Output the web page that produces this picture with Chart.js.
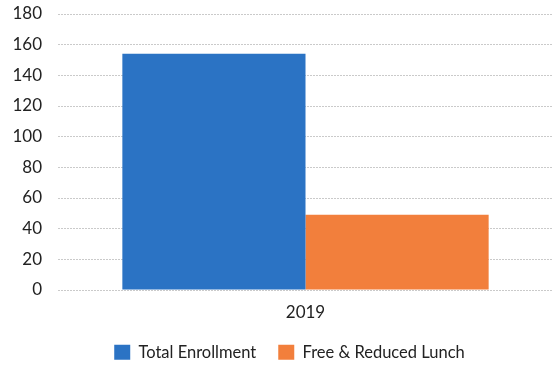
<!DOCTYPE html>
<html>
<head>
<meta charset="utf-8">
<script src="https://cdn.jsdelivr.net/npm/chart.js@4"></script>
<style>
  html, body { margin: 0; padding: 0; background: #ffffff; }
  #wrap { width: 553px; height: 366px; position: relative; }
</style>
</head>
<body>
<div id="wrap"><canvas id="chart" width="553" height="366"></canvas></div>
<script>
// Enrollment figures for the school year
const categories = ['2019'];
const seriesNames = ['Total Enrollment', 'Free & Reduced Lunch'];
const totalEnrollment = [154];
const freeReducedLunch = [49];
const yTicks = [0, 20, 40, 60, 80, 100, 120, 140, 160, 180];

const blue = '#2b73c4';
const orange = '#f27f3c';
const fontFamily = 'Lato, "Open Sans", sans-serif';

// Keeps the legend compact and nudges it a little to the right
const legendTweak = {
  id: 'legendTweak',
  beforeInit(chart) {
    const baseFit = chart.legend.fit;
    chart.legend.fit = function () {
      baseFit.call(this);
      this.height = 44;
    };
  },
  afterLayout(chart) {
    chart.legend.left += 13;
    chart.legend.right += 13;
  }
};

new Chart(document.getElementById('chart'), {
  type: 'bar',
  data: {
    labels: categories,
    datasets: [
      {
        label: seriesNames[0],
        data: totalEnrollment,
        backgroundColor: blue,
        borderWidth: 0,
        categoryPercentage: 0.74,
        barPercentage: 1.0
      },
      {
        label: seriesNames[1],
        data: freeReducedLunch,
        backgroundColor: orange,
        borderWidth: 0,
        categoryPercentage: 0.74,
        barPercentage: 1.0
      }
    ]
  },
  plugins: [legendTweak],
  options: {
    responsive: false,
    animation: false,
    layout: { padding: { top: 14, right: 0, left: 0, bottom: 0 } },
    plugins: {
      legend: {
        position: 'bottom',
        labels: {
          boxWidth: 16,
          boxHeight: 15,
          color: '#222',
          padding: 22,
          font: { family: fontFamily, size: 16.5 }
        }
      },
      tooltip: { enabled: false }
    },
    scales: {
      x: {
        grid: { display: false, drawTicks: false },
        border: { display: false },
        afterFit: (axis) => {
          axis.height = 32;
        },
        ticks: {
          color: '#222',
          padding: 12,
          font: { family: fontFamily, size: 17 }
        }
      },
      y: {
        min: yTicks[0],
        max: yTicks[yTicks.length - 1],
        afterBuildTicks: (axis) => { axis.ticks = yTicks.map(v => ({ value: v })); },
        afterFit: (axis) => {
          axis.width = 58;
          axis.paddingTop = 0;
          axis.paddingBottom = 0;
        },
        grid: {
          color: '#cacaca',
          lineWidth: 1,
          drawTicks: false
        },
        border: { display: false, dash: [2, 1] },
        ticks: {
          color: '#222',
          padding: 16,
          font: { family: fontFamily, size: 17 }
        }
      }
    }
  }
});
</script>
</body>
</html>
